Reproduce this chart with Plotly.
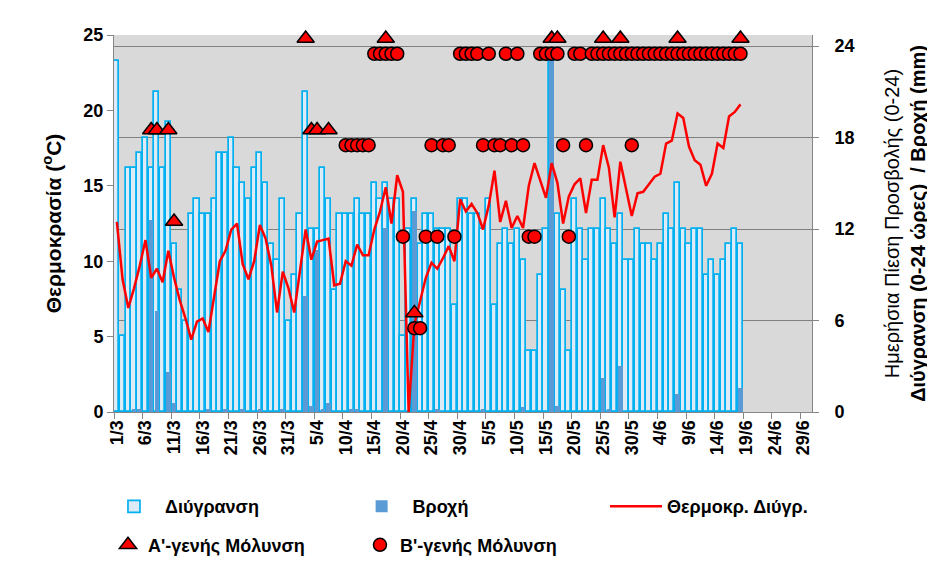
import pandas as pd
import plotly.graph_objects as go

# ---- categories (1/3 .. 30/6) ----
dates = [f"{d.day}/{d.month}" for d in pd.date_range("2013-03-01", "2013-06-30")]
tick_labels = dates[::5]

# ---- daily series (1/3 .. 18/6) ----
wetness_hours = [
    23, 5, 16, 16, 17, 18, 16, 21, 16, 19,
    11, 8, 6, 13, 14, 13, 13, 14, 17, 17,
    18, 16, 15, 14, 16, 17, 15, 11, 10, 14,
    6, 9, 13, 21, 12, 12, 16, 14, 8, 13,
    13, 13, 14, 13, 13, 15, 14, 15, 14, 14,
    5, 12, 14, 11, 13, 13, 12, 12, 12, 7,
    14, 14, 13, 13, 12, 14, 7, 11, 12, 11,
    12, 10, 4, 4, 9, 12, 23, 13, 8, 4,
    14, 12, 10, 12, 12, 14, 12, 11, 13, 10,
    10, 12, 11, 11, 10, 11, 13, 12, 15, 12,
    11, 12, 12, 9, 10, 9, 10, 11, 12, 11,
]
rain_mm = [
    0, 0, 0, 0.2, 0.2, 0, 12.6, 6.6, 0, 2.6,
    0.6, 0, 0, 0, 0, 0, 0.2, 0, 0, 0.2,
    0, 0, 0.2, 0, 0, 0.2, 0, 0, 0, 0.2,
    0, 0, 0, 7.6, 0.4, 10.6, 0.2, 0.6, 0, 0,
    0, 0.2, 0.2, 0, 0, 0, 0, 12.1, 0, 0,
    0, 0, 13.2, 0, 0, 0, 0.2, 0, 0, 0,
    0, 0, 0, 0, 0.2, 0, 0, 0, 0, 0,
    0, 0.3, 0, 0, 0, 0, 23.0, 0.4, 0, 0,
    0, 0, 0, 0, 0, 2.2, 0.2, 0, 3.0, 0,
    0, 0, 0, 0, 0, 0, 0, 0, 1.2, 0,
    0, 0, 0, 0, 0, 0, 0, 0, 0, 1.6,
]
wet_temp = [
    12.6, 8.8, 6.9, 8.2, 9.7, 11.4, 8.9, 9.5, 8.6, 10.7,
    8.9, 7.4, 6.2, 4.8, 6.0, 6.2, 5.3, 7.6, 10.0, 10.7,
    12.1, 12.5, 9.8, 8.8, 10.0, 12.4, 11.5, 9.7, 6.6, 9.3,
    8.2, 6.6, 9.3, 12.1, 10.1, 11.3, 11.4, 11.5, 8.4, 8.5,
    10.0, 9.7, 11.1, 10.4, 10.4, 12.1, 13.3, 14.9, 12.5, 15.7,
    14.6, 0.0, 5.8, 7.3, 8.9, 9.9, 9.5, 10.2, 11.0, 10.0,
    14.1, 13.3, 13.8, 13.2, 12.1, 13.7, 16.0, 12.6, 14.0, 12.2,
    13.0, 12.2, 15.0, 16.5, 15.4, 14.2, 16.5, 15.2, 12.5, 14.3,
    15.1, 15.5, 13.2, 15.4, 15.4, 17.7, 16.2, 12.9, 16.6, 14.7,
    13.0, 14.5, 14.6, 15.1, 15.6, 15.8, 17.8, 18.0, 19.8, 19.5,
    17.6, 16.7, 16.4, 15.0, 15.8, 17.8, 17.5, 19.6, 19.9, 20.4,
]

# ---- infection events (date, plotted pressure value) ----
primary_dates = ["7/3", "8/3", "10/3", "11/3", "3/4", "4/4", "5/4", "7/4",
                 "17/4", "22/4", "16/5", "17/5", "25/5", "28/5", "7/6", "18/6"]
primary_values = [18.5, 18.5, 18.5, 12.5, 24.5, 18.5, 18.5, 18.5,
                  24.5, 6.5, 24.5, 24.5, 24.5, 24.5, 24.5, 24.5]

secondary_dates = (
    ["10/4", "11/4", "12/4", "13/4", "14/4", "15/4", "16/4", "17/4", "18/4", "19/4",
     "20/4", "22/4", "23/4", "24/4", "25/4", "26/4", "27/4", "28/4", "29/4",
     "30/4", "1/5", "2/5", "3/5", "4/5", "5/5", "6/5", "7/5", "8/5", "9/5",
     "10/5", "11/5", "12/5", "13/5", "14/5", "15/5", "16/5", "17/5", "18/5", "19/5",
     "20/5", "21/5", "22/5"]
    + [f"{d}/5" for d in range(23, 32)]
    + [f"{d}/6" for d in range(1, 19)]
    + ["30/5"]
)
secondary_values = (
    [17.5, 17.5, 17.5, 17.5, 17.5, 23.5, 23.5, 23.5, 23.5, 23.5,
     11.5, 5.5, 5.5, 11.5, 17.5, 11.5, 17.5, 17.5, 11.5,
     23.5, 23.5, 23.5, 23.5, 17.5, 23.5, 17.5, 17.5, 23.5, 17.5,
     23.5, 17.5, 11.5, 11.5, 23.5, 23.5, 23.5, 23.5, 17.5, 11.5,
     23.5, 23.5, 17.5]
    + [23.5] * 9
    + [23.5] * 18
    + [17.5]
)

day_x = list(range(len(wetness_hours)))
prim_x = [dates.index(d) for d in primary_dates]
sec_x = [dates.index(d) for d in secondary_dates]

FONT = "Liberation Sans, Arial, sans-serif"


def bold(size):
    return dict(family=FONT, size=size, color="#000000", weight="bold")


fig = go.Figure()
fig.add_trace(go.Bar(
    x=day_x, y=wetness_hours, name="Διύγρανση", yaxis="y", width=0.9,
    marker=dict(color="#DDEBF7", line=dict(color="#00B0F0", width=1.7)),
    legend="legend",
))
fig.add_trace(go.Bar(
    x=day_x, y=rain_mm, name="Βροχή", yaxis="y", width=0.8,
    marker=dict(color="#5B9BD5", line=dict(width=0)),
    legend="legend2",
))
fig.add_trace(go.Scatter(
    x=day_x, y=wet_temp, name="Θερμοκρ. Διύγρ.", yaxis="y2", mode="lines",
    line=dict(color="#FF0000", width=2.5), legend="legend3",
))
fig.add_trace(go.Scatter(
    x=prim_x, y=primary_values, name="Α'-γενής Μόλυνση", yaxis="y3", mode="markers",
    marker=dict(symbol="triangle-up", size=15, color="#FF0000",
                line=dict(color="#000000", width=1.5)),
    cliponaxis=False, legend="legend4",
))
fig.add_trace(go.Scatter(
    x=sec_x, y=secondary_values, name="Β'-γενής Μόλυνση", yaxis="y3", mode="markers",
    marker=dict(symbol="circle", size=13, color="#FF0000",
                line=dict(color="#000000", width=1.5)),
    cliponaxis=False, legend="legend5",
))

axis_col = "#868686"
legend_common = dict(orientation="h", xanchor="left", yanchor="middle",
                     font=bold(18), bgcolor="rgba(0,0,0,0)", borderwidth=0)
# the page body adds an 8px offset, so the figure is 8px smaller than the window
fig.update_layout(
    width=927, height=568,
    margin=dict(l=106, r=123, t=27, b=158),
    paper_bgcolor="#FFFFFF", plot_bgcolor="#D9D9D9",
    barmode="overlay", bargap=0,
    font=dict(family=FONT, color="#000000"),
    showlegend=True,
    xaxis=dict(
        range=[-0.5, len(dates) - 0.5], automargin=False,
        tickmode="array", tickvals=list(range(0, len(dates), 5)), ticktext=tick_labels,
        tickangle=-90, ticks="", tickfont=bold(18),
        minor=dict(tickmode="linear", tick0=-0.5, dtick=5, ticks="outside",
                   ticklen=6, tickcolor=axis_col, showgrid=False),
        showline=True, linecolor=axis_col, linewidth=1, showgrid=False, zeroline=False,
    ),
    yaxis=dict(
        side="right", range=[0, 24.73], tickvals=[0, 6, 12, 18, 24], automargin=False,
        ticks="outside", ticklen=6, tickcolor=axis_col, ticklabelstandoff=12,
        tickfont=bold(18), showline=True, linecolor=axis_col,
        showgrid=True, gridcolor="#808080", gridwidth=1, zeroline=False,
        title=dict(
            text="Ημερήσια Πίεση Προσβολής (0-24)<br><b>Διύγρανση (0-24 ώρες)  / Βροχή (mm)</b>",
            font=dict(family=FONT, size=20, color="#000000"), standoff=31,
        ),
    ),
    yaxis2=dict(
        overlaying="y", side="left", range=[0, 25], dtick=5, automargin=False,
        ticks="outside", ticklen=6, tickcolor=axis_col, tickfont=bold(18),
        showline=True, linecolor=axis_col, showgrid=False, zeroline=False,
        title=dict(text="Θερμοκρασία (<sup>o</sup>C)",
                   font=dict(family=FONT, size=21, color="#000000", weight="bold"),
                   standoff=16),
    ),
    yaxis3=dict(overlaying="y", side="right", range=[0, 24.73], visible=False),
    legend=dict(x=-0.0158, y=-0.251, itemwidth=52, **legend_common),
    legend2=dict(x=0.339, y=-0.251, itemwidth=52, **legend_common),
    legend3=dict(x=0.7034, y=-0.251, itemwidth=52, **legend_common),
    legend4=dict(x=-0.0086, y=-0.353, **legend_common),
    legend5=dict(x=0.3524, y=-0.353, **legend_common),
)

fig.write_html("out.html")
